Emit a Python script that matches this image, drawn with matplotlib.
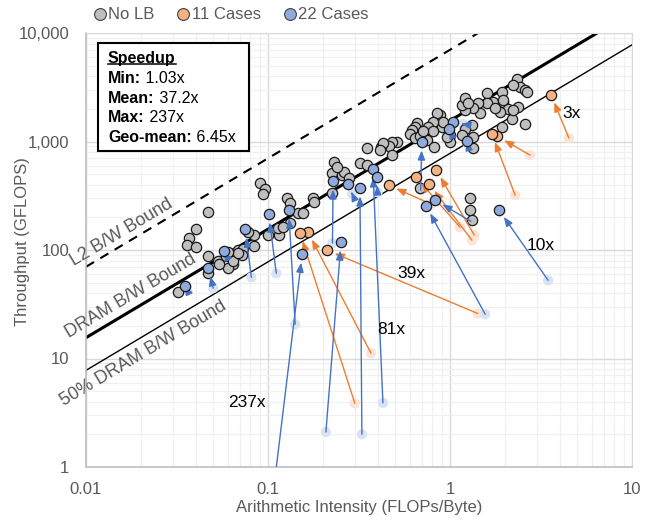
import matplotlib
matplotlib.use("Agg")
import matplotlib.pyplot as plt
from matplotlib.patches import FancyArrowPatch, Rectangle
from matplotlib.lines import Line2D
from matplotlib.ticker import LogLocator, NullFormatter
import numpy as np

plt.rcParams['font.family'] = ['Liberation Sans', 'DejaVu Sans']

# ---------------- data ----------------
DRAM_BW = 1555.0          # GB/s
L2_BW = 7000.0            # GB/s
HALF_DRAM_BW = 0.5 * DRAM_BW

x_ticks = [0.01, 0.1, 1, 10]
x_tick_labels = ["0.01", "0.1", "1", "10"]
y_ticks = [1, 10, 100, 1000, 10000]
y_tick_labels = ["1", "10", "100", "1,000", "10,000"]

stat_names = ["Min:", "Mean:", "Max:", "Geo-mean:"]
stat_values = ["1.03x", "37.2x", "237x", "6.45x"]

# No load balancing (gray)
nolb_ai = [0.090, 0.096, 0.094, 0.047, 0.040, 0.037, 0.036, 0.040, 0.047, 0.053,
           0.059, 0.064, 0.060, 0.054, 0.047, 0.068, 0.073, 0.072, 0.084, 0.084,
           0.100, 0.115, 0.113, 0.127, 0.132, 0.146, 0.156, 0.132, 0.032, 0.078,
           0.064, 0.068, 0.060,
           2.34, 2.43, 2.59, 2.65, 1.93, 1.60, 1.72, 1.60, 1.95, 2.08,
           1.88, 1.77, 1.42, 1.46, 1.34, 1.21, 1.16, 1.21, 1.26, 2.37,
           2.20, 2.59, 1.93, 1.32, 1.21, 1.16, 1.34, 1.00, 1.00, 0.96,
           0.90, 0.88, 0.85, 0.92, 0.81, 0.76, 0.81, 0.75, 0.82, 0.66,
           0.64, 0.62, 0.60, 0.64, 0.68, 0.71, 0.51, 0.48, 0.46, 0.42,
           0.43, 0.41, 0.35, 1.34, 0.23, 0.225, 0.255, 0.26, 0.28, 0.24,
           0.32, 0.35, 0.225, 0.177, 0.18, 0.121, 0.68, 1.29, 1.29, 1.32,
           1.95, 2.22, 2.22, 0.48]
nolb_gf = [413, 363, 327, 223, 155, 128, 111, 106, 88, 80,
           88, 75, 68, 74, 61, 100, 102, 89, 108, 137,
           137, 137, 159, 300, 270, 219, 219, 176, 41, 146,
           80, 93, 95,
           3770, 3180, 2980, 2855, 2855, 2800, 2310, 2260, 2310, 1990,
           1870, 2035, 2260, 1830, 2035, 1950, 2170, 2515, 2260, 2080,
           1610, 1450, 1360, 1420, 1300, 1145, 1100, 1145, 987, 1100,
           1360, 1750, 1830, 1510, 1510, 1360, 1250, 1030, 890, 1480,
           1360, 1275, 1170, 1075, 1120, 1250, 987, 987, 908, 889,
           966, 834, 870, 870, 646, 511, 490, 522, 460, 580,
           632, 606, 334, 300, 276, 162, 371, 300, 233, 188,
           2410, 1950, 3320, 750]

# Load balancing with 11 cases (orange): baseline -> balanced
lb11_base_ai = [4.50, 2.75, 2.28, 0.79, 1.135, 1.32, 1.36, 1.42, 0.368, 0.30]
lb11_base_gf = [1075, 750, 320, 264, 162, 123, 137, 26, 11.2, 3.86]
lb11_ai = [3.59, 1.81, 1.70, 0.46, 0.65, 0.77, 0.84, 0.211, 0.166, 0.150]
lb11_gf = [2700, 1120, 1170, 396, 470, 404, 545, 99.5, 146, 143]

# Load balancing with 22 cases (blue): baseline -> balanced
lb22_base_ai = [0.036, 0.050, 0.059, 0.081, 0.111, 0.141, 0.104, 0.226, 0.29, 0.328,
                0.428, 0.40, 0.208, 0.69, 1.18, 1.00, 1.25, 3.46, 1.30, 1.56]
lb22_base_gf = [42.6, 44.5, 88, 56, 61, 20.7, 0.4, 116, 330, 2.0,
                3.9, 341, 2.1, 356, 1450, 1250, 950, 52.6, 184, 25.6]
lb22_ai = [0.035, 0.047, 0.057, 0.075, 0.101, 0.130, 0.154, 0.228, 0.275, 0.32,
           0.377, 0.396, 0.252, 0.70, 1.04, 0.99, 1.24, 1.86, 0.83, 0.74]
lb22_gf = [47, 68, 97, 155, 214, 233, 91, 431, 404, 372,
           557, 470, 118, 987, 1510, 1300, 1008, 233, 288, 254]

speedup_labels = ["3x", "10x", "39x", "81x", "237x"]
speedup_label_ai = [4.68, 3.13, 0.61, 0.474, 0.0767]
speedup_label_gf = [1830, 111, 61, 18.6, 3.94]

# ---------------- styles ----------------
GRAY_FACE = "#BFBFBF"
ORANGE_FACE = "#F4B183"
BLUE_FACE = "#8FAADC"
ORANGE_FADED = "#FBE3D6"
BLUE_FADED = "#DAE3F3"
ORANGE_LINE = "#ED7D31"
BLUE_LINE = "#4472C4"
TEXT_GRAY = "#595959"
MS = 55

fig = plt.figure(figsize=(6.54, 5.21), dpi=100)
ax = fig.add_axes([86 / 654, 1 - 467 / 521, 546 / 654, 434 / 521])
ax.set_xscale("log")
ax.set_yscale("log")
ax.set_xlim(0.01, 10)
ax.set_ylim(1, 10000)

ax.xaxis.set_minor_locator(LogLocator(base=10, subs=np.arange(2, 10)))
ax.yaxis.set_minor_locator(LogLocator(base=10, subs=np.arange(2, 10)))
ax.xaxis.set_minor_formatter(NullFormatter())
ax.yaxis.set_minor_formatter(NullFormatter())
ax.set_xticks(x_ticks, labels=x_tick_labels)
ax.set_yticks(y_ticks, labels=y_tick_labels)
ax.tick_params(which="both", length=0, labelsize=12, labelcolor=TEXT_GRAY)
ax.tick_params(axis="y", pad=12)
ax.tick_params(axis="x", pad=11)
ax.grid(which="major", color="#D9D9D9", lw=1.0, zorder=0)
ax.grid(which="minor", color="#F0F0F0", lw=0.9, zorder=0)
ax.set_axisbelow(True)
for s in ["top", "right"]:
    ax.spines[s].set_color("#D9D9D9")
for s in ["left", "bottom"]:
    ax.spines[s].set_color("#BFBFBF")
    ax.spines[s].set_linewidth(1.2)

# bound lines
ai_line = np.array([0.01, 10.0])
ax.plot(ai_line, L2_BW * ai_line, color="black", lw=1.5, ls=(0, (4.5, 3.5)), zorder=1)
ax.plot(ai_line, DRAM_BW * ai_line, color="black", lw=2.2, zorder=1)
ax.plot(ai_line, HALF_DRAM_BW * ai_line, color="black", lw=1.0, zorder=1)

ang = np.degrees(np.arctan((434 / 4) / (546 / 3)))
ax.text(0.01577, 146, "L2 B/W Bound", rotation=ang, rotation_mode="anchor",
        ha="center", va="center", fontsize=13, color=TEXT_GRAY, clip_on=False)
ax.text(0.01767, 37.5, "DRAM B/W Bound", rotation=ang, rotation_mode="anchor",
        ha="center", va="center", fontsize=13, color=TEXT_GRAY, clip_on=False)
ax.text(0.02056, 11.2, "50% DRAM B/W Bound", rotation=ang, rotation_mode="anchor",
        ha="center", va="center", fontsize=13, color=TEXT_GRAY, clip_on=False)

# faded baselines
ax.scatter(lb11_base_ai, lb11_base_gf, s=MS, color=ORANGE_FADED, edgecolors="none", zorder=2)
ax.scatter(lb22_base_ai, lb22_base_gf, s=MS, color=BLUE_FADED, edgecolors="none", zorder=2)

# gray points
ax.scatter(nolb_ai, nolb_gf, s=MS, color=GRAY_FACE, edgecolors="#1A1A1A", linewidths=0.9, zorder=4)


def arrow(x0, y0, x1, y1, color):
    a = FancyArrowPatch((x0, y0), (x1, y1), transform=ax.transData,
                        arrowstyle="-|>,head_length=0.55,head_width=0.22",
                        mutation_scale=10, color=color, lw=1.0,
                        shrinkA=0, shrinkB=6, zorder=4.5)
    ax.add_patch(a)


for x0, y0, x1, y1 in zip(lb11_base_ai, lb11_base_gf, lb11_ai, lb11_gf):
    arrow(x0, y0, x1, y1, ORANGE_LINE)
for x0, y0, x1, y1 in zip(lb22_base_ai, lb22_base_gf, lb22_ai, lb22_gf):
    arrow(x0, y0, x1, y1, BLUE_LINE)

ax.scatter(lb11_ai, lb11_gf, s=MS, color=ORANGE_FACE, edgecolors="#1A1A1A", linewidths=0.9, zorder=5)
ax.scatter(lb22_ai, lb22_gf, s=MS, color=BLUE_FACE, edgecolors="#1A1A1A", linewidths=0.9, zorder=5)

for t, x, y in zip(speedup_labels, speedup_label_ai, speedup_label_gf):
    ax.text(x, y, t, ha="center", va="center", fontsize=12.5, color="black", zorder=6)

# axis labels
ax.set_xlabel("Arithmetic Intensity (FLOPs/Byte)", fontsize=12, color=TEXT_GRAY)
ax.set_ylabel("Throughput (GFLOPS)", fontsize=12, color=TEXT_GRAY)
ax.xaxis.set_label_coords(0.5, -0.076)
ax.yaxis.set_label_coords(-0.103, 0.52)

# speedup box
box = Rectangle((0.022, 0.728), 0.2766, 0.249, transform=ax.transAxes,
                facecolor="white", edgecolor="black", lw=1.5, zorder=6)
ax.add_patch(box)
title = ax.text(0.0403, 0.932, "Speedup", transform=ax.transAxes, fontsize=11.5,
                fontweight="bold", va="baseline", ha="left", zorder=7)
rows_y = [0.8855, 0.8394, 0.7956, 0.7495]
for name, val, yy in zip(stat_names, stat_values, rows_y):
    tb = ax.text(0.0403, yy, name, transform=ax.transAxes, fontsize=11.5,
                 fontweight="bold", va="baseline", ha="left", zorder=7)
    ax.annotate(" " + val, xy=(1, 0), xycoords=tb, va="bottom", ha="left",
                fontsize=11.5, zorder=7)

# legend
handles = [Line2D([], [], ls="none", marker="o", ms=8.5, mfc=c, mec="#404040", mew=0.8)
           for c in [GRAY_FACE, ORANGE_FACE, BLUE_FACE]]
leg = fig.legend(handles, ["No LB", "11 Cases", "22 Cases"], loc="upper left",
                 bbox_to_anchor=(0.128, 1.005), ncol=3, frameon=False, fontsize=12,
                 handlelength=0.7, handletextpad=0.15, columnspacing=1.4,
                 borderaxespad=0.2, labelcolor=TEXT_GRAY)

# underline "Speedup"
fig.canvas.draw()
bb = title.get_window_extent()
inv = fig.transFigure.inverted()
(x0f, y0f), (x1f, _) = inv.transform([(bb.x0, bb.y0 + 2.0), (bb.x1, bb.y0)])
fig.add_artist(Line2D([x0f, x1f], [y0f, y0f], transform=fig.transFigure,
                      color="black", lw=1.1, zorder=8))

fig.savefig("out.png", dpi=100)
